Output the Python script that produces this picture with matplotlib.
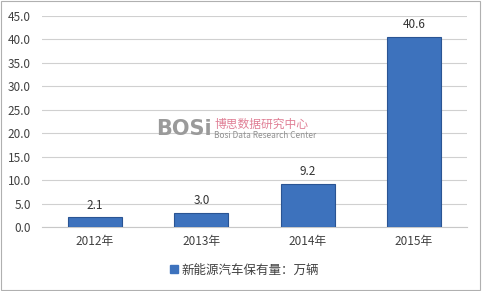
import matplotlib.pyplot as plt
import matplotlib.patches as mpatches
import numpy as np

plt.rcParams['font.family'] = ['Noto Sans CJK SC', 'DejaVu Sans']

# data
years = ["2012年", "2013年", "2014年", "2015年"]
values = [2.1, 3.0, 9.2, 40.6]
series_name = "新能源汽车保有量：万辆"

fig = plt.figure(figsize=(4.82, 2.91), dpi=100)
ax = fig.add_axes([0.087, 0.22, 0.882, 0.725])

x = np.arange(len(years))
bars = ax.bar(x, values, width=0.51, color='#3d72bd', edgecolor='#2a5493',
              linewidth=0.8, zorder=3)

for xi, v in zip(x, values):
    ax.annotate(f"{v:.1f}", (xi, v), xytext=(0, 4), textcoords='offset points',
                ha='center', va='bottom', fontsize=8.5, color='#333333')

ax.set_xlim(-0.5, len(years) - 0.5)
ax.set_ylim(0, 45)
ax.set_yticks(np.arange(0, 46, 5))
ax.set_yticklabels([f"{t:.1f}" for t in np.arange(0, 46, 5)])
ax.set_xticks(x)
ax.set_xticklabels(years)
ax.grid(axis='y', color='#d0d0d0', linewidth=0.8, zorder=0)
for s in ax.spines.values():
    s.set_visible(False)
ax.spines['bottom'].set_visible(True)
ax.spines['bottom'].set_color('#c8c8c8')
ax.tick_params(length=0, labelsize=8.5, colors='#404040')
ax.tick_params(axis='y', pad=8)
ax.tick_params(axis='x', pad=6)

# legend
handle = mpatches.Patch(color='#3d72bd', label=series_name)
fig.legend(handles=[handle], loc='center', bbox_to_anchor=(0.508, 0.072),
           frameon=False, fontsize=9, handlelength=0.6, handleheight=0.6,
           handletextpad=0.3, labelcolor='#404040')

# watermark
fig.text(0.324, 0.556, "BOSi", fontsize=15, fontweight='bold', color='#9a9a9a',
         ha='left', va='center', family='DejaVu Sans')
fig.text(0.444, 0.572, "博思数据研究中心", fontsize=8.5, color='#e07f95',
         ha='left', va='center')
fig.text(0.444, 0.533, "Bosi Data Research Center", fontsize=6, color='#909090',
         ha='left', va='center')

# outer frame
fig.add_artist(mpatches.Rectangle((0.002, 0.004), 0.994, 0.992, transform=fig.transFigure,
                                  fill=False, edgecolor='#b0b0b0', linewidth=0.8))

fig.savefig("out.png", dpi=100)
